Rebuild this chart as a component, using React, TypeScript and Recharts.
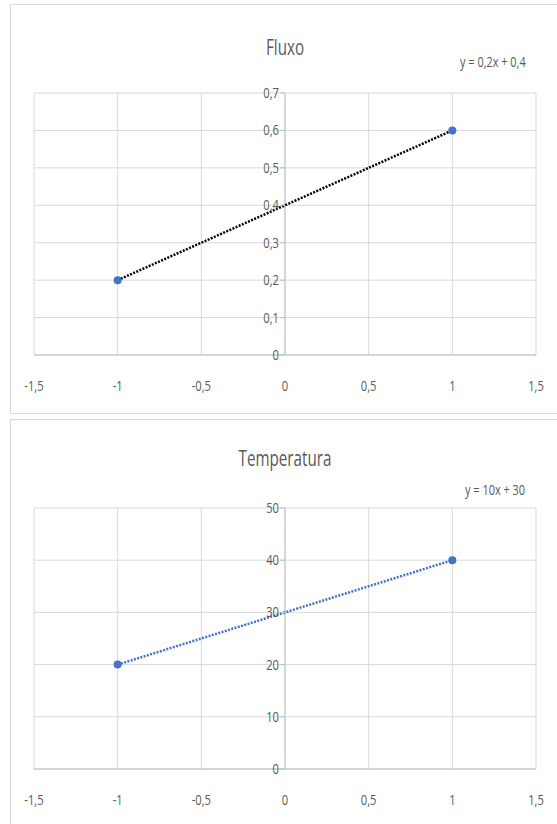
import { ScatterChart, Scatter, XAxis, YAxis, CartesianGrid, ReferenceLine } from 'recharts';

// shared x axis
const xTicks = [-1.5, -1, -0.5, 0, 0.5, 1, 1.5];

// Fluxo
const fluxoX = [-1, 1];
const fluxoY = [0.2, 0.6];
const fluxoTicks = [0, 0.1, 0.2, 0.3, 0.4, 0.5, 0.6, 0.7];
const fluxoEq = 'y = 0,2x + 0,4';

// Temperatura
const tempX = [-1, 1];
const tempY = [20, 40];
const tempTicks = [0, 10, 20, 30, 40, 50];
const tempEq = 'y = 10x + 30';

const FONT = '"Open Sans", "DejaVu Sans", sans-serif';
const TXT = '#595959';
const GRID = '#d9d9d9';
const AXIS = '#bfbfbf';
const NARROW = 0.8; // horizontal squeeze to mimic the condensed Office font

const W = 557;
const M = { left: 33, right: 21, bottom: 25 };
// the y axis crosses at x = 0, the middle of the domain
const axisX = M.left + 1 + (W - M.left - 1 - M.right) / 2;

const fmt = (v: number) => String(v).replace('.', ',');

const renderYTick = (props: any) => {
  const { y, payload } = props;
  return (
    <g key={`yt-${payload.value}`}>
      <line x1={axisX - 5} x2={axisX} y1={y} y2={y} stroke={AXIS} />
      <text
        transform={`translate(${axisX - 6},${y}) scale(${NARROW},1)`}
        dy={5}
        textAnchor="end"
        fill={TXT}
        fontSize={14}
        fontFamily={FONT}
      >
        {fmt(payload.value)}
      </text>
    </g>
  );
};

const renderXTick = (props: any) => {
  const { x, y, payload } = props;
  return (
    <text
      key={`xt-${payload.value}`}
      transform={`translate(${x},${y}) scale(${NARROW},1)`}
      dy={10}
      textAnchor="middle"
      fill={TXT}
      fontSize={14}
      fontFamily={FONT}
    >
      {fmt(payload.value)}
    </text>
  );
};

interface Props {
  top: number;
  height: number;
  marginTop: number;
  title: string;
  titleY: number;
  equation: string;
  eqX: number;
  eqY: number;
  xs: number[];
  ys: number[];
  yTicks: number[];
  trendColor: string;
}

function Panel({ top, height, marginTop, title, titleY, equation, eqX, eqY, xs, ys, yTicks, trendColor }: Props) {
  const data = xs.map((x, i) => ({ x, y: ys[i] }));
  return (
    <div style={{ position: 'absolute', left: 0, top, width: W, height }}>
      <div
        style={{
          position: 'absolute', left: axisX, top: titleY, transform: 'translate(-50%, -50%) scaleX(0.69)',
          fontFamily: FONT, fontSize: 22, color: TXT, whiteSpace: 'nowrap',
        }}
      >
        {title}
      </div>
      <div
        style={{
          position: 'absolute', left: eqX, top: eqY, transform: 'translateY(-50%) scaleX(0.78)', transformOrigin: 'left center',
          fontFamily: FONT, fontSize: 14, color: TXT, whiteSpace: 'nowrap',
        }}
      >
        {equation}
      </div>
      <ScatterChart width={W} height={height} margin={{ top: marginTop, right: M.right, bottom: M.bottom, left: M.left }}>
        <CartesianGrid stroke={GRID} />
        <XAxis
          type="number"
          dataKey="x"
          domain={[xTicks[0], xTicks[xTicks.length - 1]]}
          ticks={xTicks}
          interval={0}
          height={30}
          stroke={AXIS}
          tickLine={false}
          tickMargin={20}
          tick={renderXTick}
        />
        <YAxis
          type="number"
          dataKey="y"
          domain={[yTicks[0], yTicks[yTicks.length - 1]]}
          ticks={yTicks}
          interval={0}
          width={1}
          axisLine={false}
          tickLine={false}
          tick={renderYTick}
        />
        <ReferenceLine x={0} stroke={AXIS} />
        <Scatter
          data={data}
          fill="#4472C4"
          isAnimationActive={false}
          line={{ stroke: trendColor, strokeWidth: 2.5, strokeDasharray: '2 1.4' }}
          shape={(p: any) => <circle cx={p.cx} cy={p.cy} r={4} fill="#4472C4" />}
        />
      </ScatterChart>
    </div>
  );
}

export default function App() {
  return (
    <div style={{ position: 'absolute', left: 0, top: 0, width: W, height: 824, overflow: 'hidden', background: '#fff' }}>
      <div style={{ position: 'absolute', left: 10, top: 4, width: 560, height: 408, border: `1px solid ${GRID}` }} />
      <div style={{ position: 'absolute', left: 10, top: 419, width: 560, height: 420, border: `1px solid ${GRID}` }} />
      <Panel
        top={0}
        height={410}
        marginTop={93}
        title="Fluxo"
        titleY={46}
        equation={fluxoEq}
        eqX={460}
        eqY={61}
        xs={fluxoX}
        ys={fluxoY}
        yTicks={fluxoTicks}
        trendColor="#000000"
      />
      <Panel
        top={416}
        height={408}
        marginTop={92}
        title="Temperatura"
        titleY={41}
        equation={tempEq}
        eqX={465}
        eqY={73}
        xs={tempX}
        ys={tempY}
        yTicks={tempTicks}
        trendColor="#4472C4"
      />
    </div>
  );
}
